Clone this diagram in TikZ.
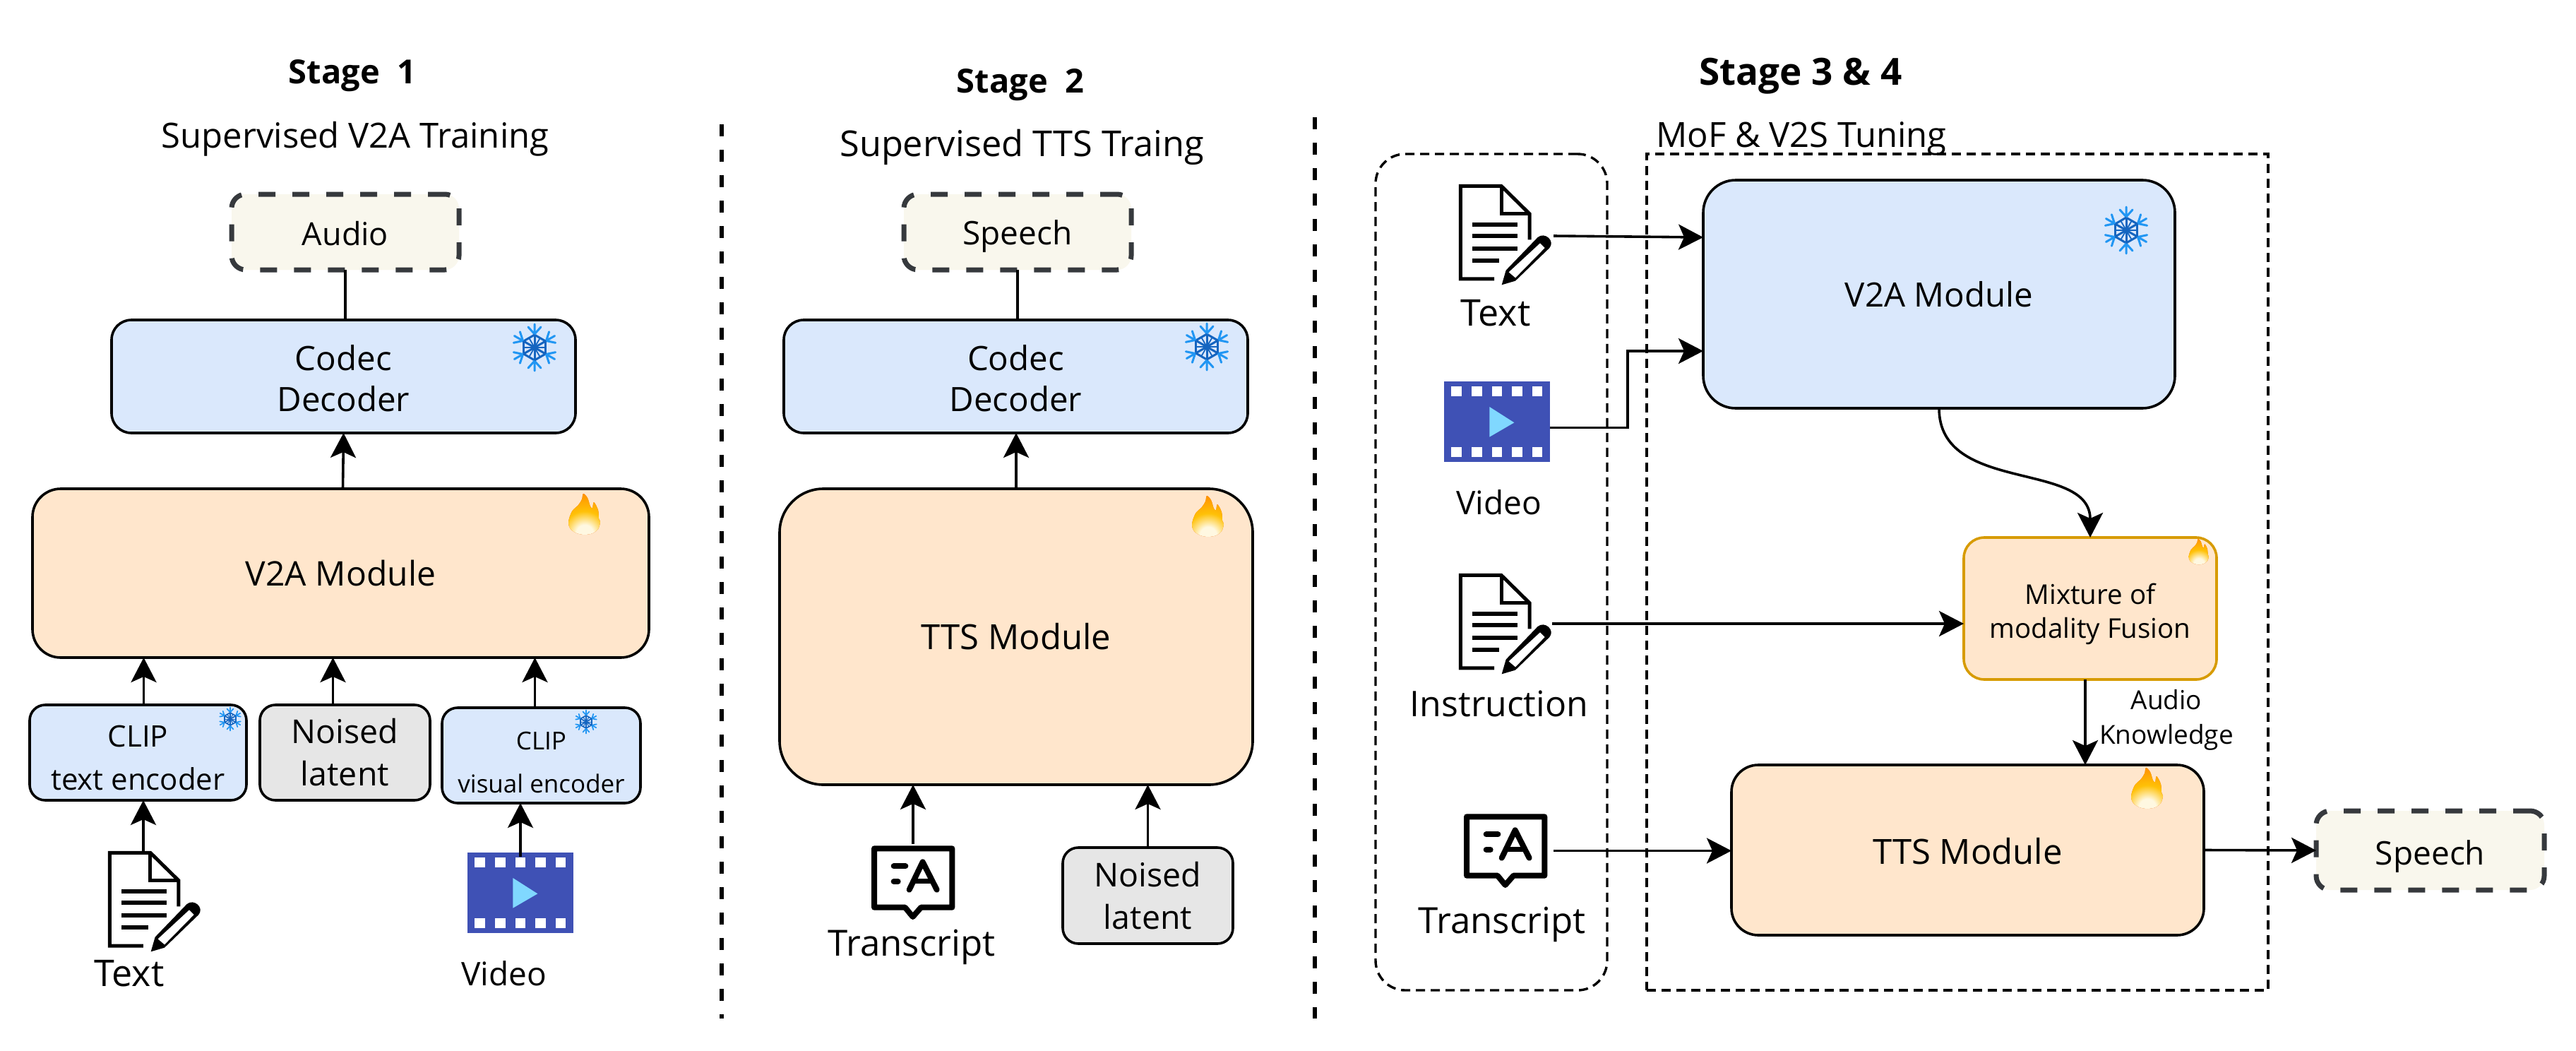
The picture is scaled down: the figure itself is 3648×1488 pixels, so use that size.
\documentclass[tikz,border=0pt]{standalone}
\usepackage{fontspec}
\setmainfont{Open Sans}
\usetikzlibrary{arrows.meta,calc}
\definecolor{cblue}{HTML}{DAE8FC}
\definecolor{corange}{HTML}{FFE6CC}
\definecolor{cgrey}{HTML}{E6E6E6}
\definecolor{ccream}{HTML}{F9F7ED}
\definecolor{cdash}{HTML}{36393D}
\definecolor{cgold}{HTML}{D79B00}
\definecolor{cfilm}{HTML}{3F51B5}
\definecolor{cplay}{HTML}{80D8FF}
\definecolor{snowa}{HTML}{2196F3}
\definecolor{snowb}{HTML}{1565C0}
\definecolor{fla}{HTML}{FFF8E1}
\definecolor{flb}{HTML}{FFC107}
\definecolor{flc}{HTML}{FF8F00}
\definecolor{fld}{HTML}{F26A00}
\pgfdeclareradialshading{flameshade}{\pgfpoint{0bp}{0bp}}{color(0bp)=(fla); color(5bp)=(fla); color(13bp)=(flb); color(24bp)=(flc); color(50bp)=(fld)}
\newcommand{\fsz}[2]{\fontsize{#1}{#2}\selectfont}
\newcommand{\flamepath}{plot[smooth cycle,tension=0.55] coordinates {(-2,-29) (4,-23) (8,-11) (11,-9) (13,-17) (19,-6) (20,6) (22,11) (19,21) (11,27) (0,29) (-11,27) (-20,21) (-23,11) (-18,-4) (-9,-13) (-4,-21)}}
\tikzset{
  box/.style={draw=black,line width=3.6pt,inner sep=0pt,outer sep=0pt,align=center,anchor=north west},
  blue box/.style={box,fill=cblue},
  orange box/.style={box,fill=corange},
  grey box/.style={box,fill=cgrey,rounded corners=22pt},
  out box/.style={box,draw=cdash,line width=7pt,fill=ccream,rounded corners=20pt,dash pattern=on 24pt off 24pt},
  group box/.style={draw=black,line width=3.4pt,inner sep=0pt,outer sep=0pt,anchor=north west,dash pattern=on 13pt off 8pt},
  iconbox/.style={inner sep=0pt,outer sep=0pt,anchor=north west},
  label text/.style={inner sep=0pt,outer sep=0pt,align=center},
  arr/.style={draw=black,line width=3.6pt,-{Stealth[length=35pt,width=36pt,inset=8pt]}},
  plain/.style={draw=black,line width=3.6pt},
  divider/.style={draw=black,line width=6pt,dash pattern=on 17pt off 19pt},
  pics/docicon/.style={code={
    \begin{scope}[x=0.3333pt,y=-0.3333pt,shift={(-160,-675)}]
      \draw[line width=5pt,miter limit=4] (310,1077) -- (167,1077) -- (167,682) -- (340,682) -- (460,800) -- (460,910);
      \draw[line width=5pt] (340,682) -- (340,800) -- (460,800);
      \draw[line width=6pt] (218,845) -- (408,845) (218,895) -- (408,895) (218,948) -- (408,948) (218,1000) -- (330,1000);
      \fill[black] (342,1102) -- (360,1040) -- (495,900) .. controls (525,875) and (570,915) .. (545,945) -- (400,1085) -- cycle;
      \fill[white] (372,1048) -- (505,925) -- (525,945) -- (400,1072) -- cycle;
    \end{scope}}},
  pics/filmicon/.style={code={
    \begin{scope}[x=0.3333pt,y=-0.3333pt,shift={(-67,-652)}]
      \fill[cfilm] (67,652) rectangle (517,995);
      \foreach \sx in {98,184,270,355,441} {
        \fill[white] (\sx,673) rectangle ++(44,43);
        \fill[white] (\sx,930) rectangle ++(44,44);
      }
      \fill[cplay] (260,760) -- (365,827) -- (260,888) -- cycle;
    \end{scope}}},
  pics/transicon/.style={code={
    \begin{scope}[x=0.3333pt,y=-0.3333pt,shift={(-127,-62)}]
      \draw[line width=8pt,line join=round] (139,75) -- (470,75) -- (470,325) -- (338,325) -- (303,365) -- (270,325) -- (139,325) -- cycle;
      \draw[line width=8pt,line cap=round] (222,150) -- (272,150);
      \draw[line width=8pt,line cap=round] (222,215) -- (240,215);
      \draw[line width=8pt,line cap=round,line join=round] (288,250) -- (345,132) -- (405,250);
      \draw[line width=7pt] (312,214) -- (380,214);
    \end{scope}}},
  pics/flame/.style={code={
    \begin{scope}[yscale=-1]
    \fill[fld] \flamepath;
    \begin{scope}
      \clip \flamepath;
      \shade[shading=flameshade] (0,27) circle (60);
    \end{scope}
    \end{scope}}},
  pics/snow/.style={code={
    \foreach \ang in {30,90,150,210,270,330} {
      \begin{scope}[rotate=\ang]
        \draw[snowa,line width=#1pt,line cap=round] (17,0) -- (33,0) (19,0) -- (29,9) (19,0) -- (29,-9);
        \draw[snowb,line width=#1pt] (0,0) -- (18,0);
        \draw[snowb,line width=#1pt] (18,0) -- (60:18);
        \draw[snowb,line width=0.6*#1pt] (0,0) -- (30:16);
      \end{scope}
    }}},
}
\begin{document}
\begin{tikzpicture}[x=1pt,y=1pt,line cap=butt]
\path[use as bounding box,fill=white] (0,0) rectangle (3648,-1488);

% dividers
\coordinate (d1t) at (1022,-176);
\coordinate (d1b) at (1022,-1442);
\coordinate (d2t) at (1862,-166);
\coordinate (d2b) at (1862,-1442);
\draw[divider] (d1t) -- (d1b);
\draw[divider] (d2t) -- (d2b);

% headings
\node[label text,font=\bfseries\fsz{47}{56}] (st1) at (499,-107) {Stage\ \ 1};
\node[label text,font=\fsz{49}{58}] (sub1) at (503,-197) {Supervised V2A Training};
\node[label text,font=\bfseries\fsz{47}{56}] (st2) at (1445,-120) {Stage\ \ 2};
\node[label text,font=\fsz{50.5}{60}] (sub2) at (1447,-208) {Supervised TTS Traing};
\node[label text,font=\bfseries\fsz{53}{62}] (st3) at (2550,-108) {Stage 3 \& 4};
\node[label text,font=\fsz{49}{58}] (sub3) at (2551,-196) {MoF \& V2S Tuning};

% ---------- stage 1
\node[out box,minimum width=322pt,minimum height=107pt,font=\fsz{45}{56}] (audio1) at (328,-275) {\rule{0pt}{38pt}Audio};
\node[blue box,rounded corners=28pt,minimum width=657pt,minimum height=160pt,font=\fsz{47.5}{58}] (codec1) at (158,-453) {\rule{0pt}{42pt}Codec\\Decoder};
\node[orange box,rounded corners=40pt,minimum width=873pt,minimum height=239pt,font=\fsz{48}{56}] (v2a1) at (46,-692) {V2A Module};
\node[blue box,rounded corners=22pt,minimum width=307pt,minimum height=135pt,font=\fsz{42}{61}] (cliptxt) at (42,-998) {\rule{0pt}{46pt}CLIP\\text encoder};
\node[grey box,minimum width=241pt,minimum height=135pt,font=\fsz{46.5}{60}] (noise1) at (368,-998) {Noised\\latent};
\node[blue box,rounded corners=22pt,minimum width=281pt,minimum height=135pt,font=\fsz{35}{61}] (clipvis) at (626,-1002) {\rule{0pt}{46pt}CLIP\\visual encoder};
\node[iconbox,minimum width=132pt,minimum height=142pt] (doc1) at (153,-1205) {};
\pic at (doc1.north west) {docicon};
\node[iconbox,minimum width=150pt,minimum height=115pt] (film1) at (662,-1207) {};
\pic at (film1.north west) {filmicon};
\node[label text,font=\fsz{52}{60}] (textlab1) at (183,-1378) {Text};
\node[label text,font=\fsz{46}{54}] (vidlab1) at (714,-1378) {Video};
\pic at (828,-728) {flame};
\pic at (757,-492) {snow=3};
\pic[scale=0.5] at (326,-1018) {snow=1.7};
\pic[scale=0.5] at (830,-1022) {snow=1.7};

\draw[plain] (audio1.south) -- (audio1.south |- codec1.north);
\draw[arr] ([xshift=-1pt]v2a1.north -| codec1.south) -- (codec1.south);
\draw[arr] ([xshift=8pt]cliptxt.north) -- ([xshift=8pt]cliptxt.north |- v2a1.south);
\draw[arr] ([xshift=-17pt]noise1.north) -- ([xshift=-17pt]noise1.north |- v2a1.south);
\draw[arr] ([xshift=-9pt]clipvis.north) -- ([xshift=-9pt]clipvis.north |- v2a1.south);
\draw[arr] ([xshift=-16pt]doc1.north) -- ([xshift=-16pt]doc1.north |- cliptxt.south);
\draw[arr] ([yshift=-6pt]film1.north) -- (film1.north |- clipvis.south);

% ---------- stage 2
\node[out box,minimum width=322pt,minimum height=107pt,font=\fsz{46}{56}] (speech2) at (1280,-275) {\rule{0pt}{48pt}Speech};
\node[blue box,rounded corners=28pt,minimum width=657pt,minimum height=160pt,font=\fsz{47.5}{58}] (codec2) at (1110,-453) {\rule{0pt}{42pt}Codec\\Decoder};
\node[orange box,rounded corners=62pt,minimum width=670pt,minimum height=419pt,font=\fsz{49}{56}] (tts2) at (1104,-692) {TTS Module};
\node[iconbox,minimum width=118pt,minimum height=105pt] (trans2) at (1234,-1197) {};
\pic at (trans2.north west) {transicon};
\node[grey box,minimum width=241pt,minimum height=136pt,font=\fsz{46.5}{60}] (noise2) at (1505,-1200) {Noised\\latent};
\node[label text,font=\fsz{51}{60}] (translab2) at (1291,-1341) {Transcript};
\pic at (1711,-731) {flame};
\pic at (1709,-491) {snow=3};

\draw[plain] (speech2.south) -- (speech2.south |- codec2.north);
\draw[arr] (tts2.north) -- (tts2.north |- codec2.south);
\draw[arr] ([yshift=2pt]trans2.north) -- (trans2.north |- tts2.south);
\draw[arr] (noise2.north) -- (noise2.north |- tts2.south);

% ---------- stage 3 & 4
\node[group box,rounded corners=42pt,minimum width=328pt,minimum height=1184pt] (inputs) at (1948,-218) {};
\node[group box,minimum width=880pt,minimum height=1184pt] (tuning) at (2332,-218) {};

\node[blue box,rounded corners=46pt,minimum width=668pt,minimum height=323pt,font=\fsz{47.5}{56}] (v2a3) at (2412,-255) {V2A Module};
\node[box,draw=cgold,fill=corange,rounded corners=29pt,minimum width=358pt,minimum height=201pt,font=\fsz{38.5}{48}] (mof) at (2781,-761) {\rule{0pt}{46pt}Mixture of\\modality Fusion};
\node[orange box,rounded corners=38pt,minimum width=669pt,minimum height=241pt,font=\fsz{49}{56}] (tts3) at (2452,-1083) {\rule{0pt}{40pt}TTS Module};
\node[out box,minimum width=323pt,minimum height=112pt,font=\fsz{46}{56}] (speech3) at (3280,-1148) {\rule{0pt}{52pt}Speech};

\node[iconbox,minimum width=132pt,minimum height=142pt] (doc3) at (2066,-261) {};
\pic at (doc3.north west) {docicon};
\node[label text,font=\fsz{52}{60}] (textlab3) at (2118,-443) {Text};
\node[iconbox,minimum width=150pt,minimum height=115pt] (film3) at (2045,-540) {};
\pic at (film3.north west) {filmicon};
\node[label text,font=\fsz{46}{54}] (vidlab3) at (2123,-711) {Video};
\node[iconbox,minimum width=132pt,minimum height=142pt] (doc4) at (2066,-812) {};
\pic at (doc4.north west) {docicon};
\node[label text,font=\fsz{50}{58}] (instlab) at (2123,-996) {Instruction};
\node[iconbox,minimum width=118pt,minimum height=105pt] (trans3) at (2073,-1152) {};
\pic at (trans3.north west) {transicon};
\node[label text,font=\fsz{51}{60}] (translab3) at (2127,-1309) {Transcript};
\node[label text,font=\fsz{37}{49}] (auklab) at (3068,-1019) {Audio\\Knowledge};

\pic at (3011,-326) {snow=3};
\pic[scale=0.63] at (3114,-781) {flame};
\pic at (3041,-1116) {flame};

\draw[arr] ([xshift=2pt,yshift=-2pt]doc3.east) -- ([yshift=-4pt]doc3.east -| v2a3.west);
\draw[arr] ([yshift=-8pt]film3.east) -- ++(110,0) |- ([yshift=-165pt]doc3.east -| v2a3.west);
\draw[arr] (doc4.east) -- (doc4.east -| mof.west);
\draw[arr] ([xshift=9pt]trans3.east) -- (trans3.east -| tts3.west);
\draw[arr] (v2a3.south) .. controls ([yshift=-122pt]v2a3.south) and ([yshift=110pt]mof.north) .. (mof.north);
\draw[arr] ([xshift=-7pt]mof.south) -- ([xshift=-7pt]mof.south |- tts3.north);
\draw[arr] (tts3.east) -- (speech3.west);
\end{tikzpicture}
\end{document}
